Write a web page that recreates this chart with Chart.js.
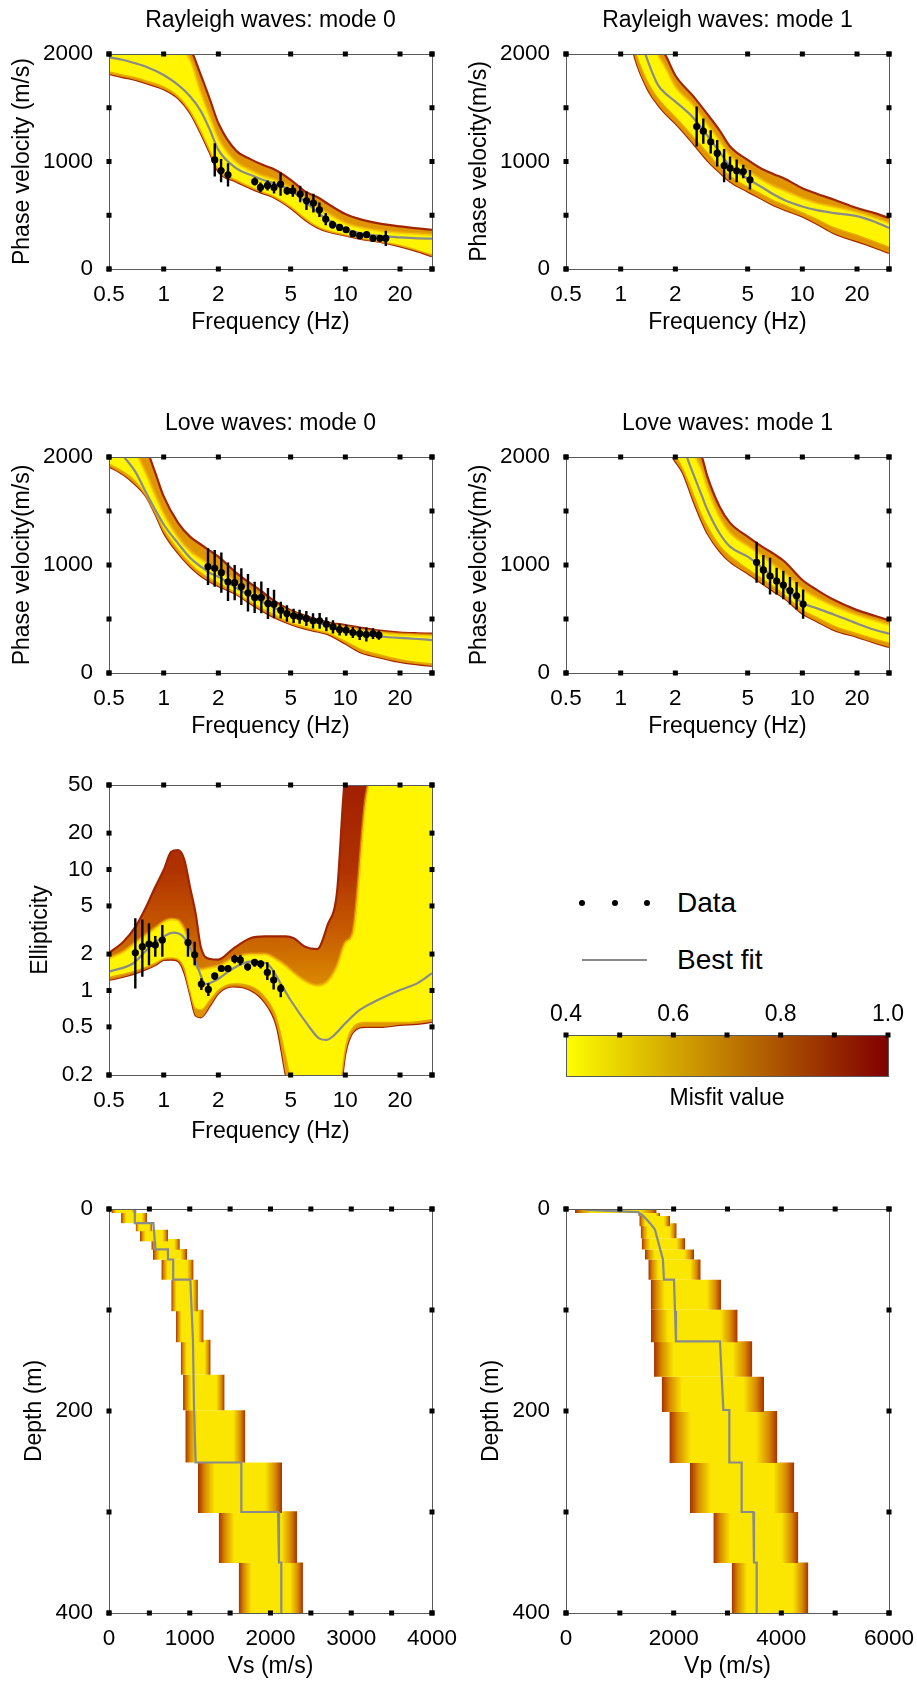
<!DOCTYPE html>
<html lang="en">
<head>
<meta charset="UTF-8">
<meta name="viewport" content="width=device-width, initial-scale=1.0">
<title>Inversion results</title>
<script src="https://cdn.jsdelivr.net/npm/chart.js@4.4.1/dist/chart.umd.min.js"></script>
<style>
  body { margin: 0; background: #fff; }
  #page { position: relative; width: 917px; height: 1683px; overflow: hidden; background: #fff;
          font-family: "Liberation Sans", Arial, sans-serif; color: #000; }
  #page canvas { position: absolute; }
  .dot { position: absolute; width: 6px; height: 6px; border-radius: 50%; background: #000; }
  .legtext { position: absolute; font-size: 28px; line-height: 28px; white-space: nowrap; }
</style>
</head>
<body>
<div id="page">
  <div class="dot" style="left:579px;top:900px"></div>
  <div class="dot" style="left:612px;top:900px"></div>
  <div class="dot" style="left:644px;top:900px"></div>
  <div class="legtext" style="left:677px;top:889px">Data</div>
  <div style="position:absolute;left:582px;top:959px;width:65px;height:2px;background:#8a8a8a"></div>
  <div class="legtext" style="left:677px;top:946px">Best fit</div>
</div>
<script>
// ticks
const freqTicks = [0.5, 1, 2, 5, 10, 20, 30];
const freqLabels = ['0.5', '1', '2', '5', '10', '20', ''];
const velTicks = [0, 500, 1000, 1500, 2000];
const velLabels = ['0', '', '1000', '', '2000'];
const ellTicks = [0.2, 0.5, 1, 2, 5, 10, 20, 50];
const ellLabels = ['0.2', '0.5', '1', '2', '5', '10', '20', '50'];
const depthTicks = [0, 100, 200, 300, 400];
const depthLabels = ['0', '', '200', '', '400'];
const vsTicks = [0, 500, 1000, 1500, 2000, 2500, 3000, 3500, 4000];
const vsLabels = ['0', '', '1000', '', '2000', '', '3000', '', '4000'];
const vpTicks = [0, 1000, 2000, 3000, 4000, 5000, 6000];
const vpLabels = ['0', '', '2000', '', '4000', '', '6000'];
const misfitTicks = [0.4, 0.5, 0.6, 0.7, 0.8, 0.9, 1.0];
const misfitLabels = ['0.4', '', '0.6', '', '0.8', '', '1.0'];

// Rayleigh mode 0
const r0Freq = [0.5,0.6,0.7,0.8,1,1.2,1.4,1.6,1.8,2,2.5,3,3.5,4,5,6,7,8,10,12,15,20,25,30];
const r0Upper = [2400,2350,2300,2250,2200,2150,2050,1805,1573,1356,1102,1022,969,932,830,721,669,607,511,464,427,396,378,365];
const r0InUpper = [2300,2250,2200,2150,2100,2050,1950,1650,1420,1220,1000,920,870,840,760,660,580,520,430,390,360,340,330,320];
const r0InLower = [1840,1810,1785,1755,1700,1615,1480,1295,1110,935,835,770,722,685,585,478,402,362,322,292,266,225,180,140];
const r0Lower = [1814,1783,1759,1728,1672,1588,1449,1263,1077,907,814,752,706,669,567,458,387,350,313,282,257,211,164,118];
const r0Best = [1969,1944,1913,1882,1805,1712,1604,1470,1290,1108,938,876,830,799,731,628,530,458,372,334,310,294,285,282];
const r0DataF = [1.91,2.07,2.26,3.17,3.41,3.73,4.05,4.40,4.78,5.14,5.64,6.11,6.67,7.2,7.8,8.5,9.3,10.1,11.0,12.0,13.1,14.2,15.5,16.7];
const r0DataV = [1015,916,876,814,759,777,759,789,728,728,697,635,613,551,464,412,387,365,328,310,319,285,285,285];
const r0DataErr = [155,108,108,37,46,46,56,108,37,56,77,87,87,68,56,37,25,25,19,15,15,12,12,70];

// Rayleigh mode 1
const r1Freq = [1.1,1.2,1.4,1.6,1.8,2,2.5,3,3.5,4,5,6,7,8,10,12,15,20,25,30];
const r1Upper = [2700,2550,2300,2120,1960,1800,1610,1440,1290,1140,1015,930,880,840,752,700,644,567,520,474];
const r1InUpper = [2600,2450,2200,2000,1850,1700,1530,1350,1200,1060,920,830,770,730,660,615,580,530,480,430];
const r1InLower = [2300,2050,1760,1600,1500,1420,1240,1090,960,870,770,700,640,600,530,470,390,320,260,210];
const r1Lower = [2250,1960,1680,1530,1430,1356,1170,1010,900,814,721,650,590,550,489,420,330,257,200,149];
const r1Best = [2450,2300,1950,1715,1620,1557,1410,1240,1090,955,840,760,690,640,582,548,520,492,440,381];
const r1DataF = [2.62,2.85,3.13,3.40,3.71,4.0,4.35,4.73,5.15];
const r1DataV = [1325,1282,1183,1077,962,938,913,907,830];
const r1DataErr = [186,118,108,124,155,108,105,62,90];

// Love mode 0
const l0Freq = [0.5,0.6,0.7,0.8,0.9,1,1.2,1.4,1.6,1.8,2,2.5,3,3.5,4,5,6,7,8,10,12,15,20,25,30];
const l0Upper = [2400,2300,2200,2080,1850,1635,1390,1260,1190,1130,1077,930,830,750,675,582,530,495,470,443,420,396,375,368,365];
const l0InUpper = [2350,2200,2050,1850,1650,1480,1260,1130,1060,1000,960,850,770,705,650,565,515,480,455,425,400,380,360,355,350];
const l0InLower = [1940,1870,1780,1650,1490,1340,1150,1020,935,880,840,745,665,600,550,470,430,400,375,300,230,180,130,105,90];
const l0Lower = [1913,1836,1743,1635,1470,1300,1110,985,900,845,805,730,644,575,520,452,410,385,360,272,195,149,102,80,65];
const l0Best = [2200,2010,1860,1670,1510,1375,1200,1065,985,925,892,790,715,660,610,535,495,465,440,395,365,340,325,315,305];
const l0DataF = [1.754,1.909,2.077,2.26,2.459,2.676,2.911,3.168,3.448,3.75,4.05,4.41,4.77,5.19,5.60,6.10,6.64,7.22,7.86,8.55,9.30,10.1,11.0,12.0,13.05,14.2,15.3];
const l0DataV = [985,969,929,845,836,799,743,700,700,644,638,582,551,529,520,505,483,483,452,427,402,396,375,365,356,365,350];
const l0DataErr = [170,170,186,178,163,170,173,144,147,144,132,77,77,67,65,70,70,73,65,62,54,51,50,59,65,50,43];

// Love mode 1
const l1Freq = [1.8,2,2.2,2.5,2.8,3,3.5,4,5,6,7,8,10,12,15,20,25,30];
const l1Upper = [2600,2450,2300,2150,2000,1820,1542,1390,1263,1170,1100,1030,861,770,675,582,530,489];
const l1InUpper = [2500,2350,2200,2050,1880,1720,1450,1300,1180,1090,1000,930,780,700,620,540,490,450];
const l1InLower = [2150,2030,1900,1680,1470,1370,1190,1090,970,880,800,730,590,520,440,370,320,285];
const l1Lower = [2080,1960,1851,1604,1400,1294,1130,1030,923,830,752,690,551,480,396,334,280,241];
const l1Best = [2450,2300,2100,1850,1640,1511,1294,1170,1077,975,875,790,650,600,540,458,400,365];
const l1DataF = [5.60,6.10,6.64,7.22,7.86,8.55,9.30,10.1];
const l1DataV = [1025,954,898,851,814,762,715,638];
const l1DataErr = [190,139,170,124,132,127,127,136];

// Ellipticity
const ellFreq = [0.5,0.6,0.7,0.8,0.9,1,1.1,1.2,1.3,1.4,1.5,1.6,1.8,2,2.4,3,3.6,4.2,4.7,5.2,6,7,8,9,10,11,13,16,20,25,30];
const ellUpper = [2.05,2.53,3.37,4.9,7.2,9.9,14,14.5,12,7,4.3,2.3,1.82,1.8,2.2,2.7,2.8,2.8,2.8,2.7,2.3,2.2,3.5,6.5,60,80,80,80,80,80,80];
const ellInUpper = [1.85,2.1,2.5,2.9,3.3,3.7,3.9,3.8,3.2,2.4,1.6,1.5,1.55,1.6,1.85,2.0,2.0,1.8,1.6,1.4,1.2,1.1,1.2,1.6,2.5,3,40,80,80,80,80];
const ellInLower = [1.3,1.38,1.47,1.58,1.7,1.85,1.87,1.82,1.55,1.0,0.72,0.7,0.85,1.02,1.15,1.1,0.9,0.6,0.3,0.15,0.1,0.1,0.1,0.12,0.35,0.5,0.55,0.55,0.55,0.56,0.58];
const ellLower = [1.22,1.3,1.39,1.5,1.62,1.79,1.8,1.75,1.4,0.92,0.62,0.6,0.75,0.95,1.08,1.01,0.8,0.5,0.2,0.1,0.1,0.1,0.1,0.1,0.3,0.45,0.5,0.5,0.52,0.53,0.55];
const ellBestF = [0.5,0.68,0.84,1,1.13,1.25,1.39,1.54,1.7,1.95,2.41,3,3.67,4.5,5,6.1,7.2,7.86,8.5,10,12,15,20,25,30];
const ellBest = [1.43,1.68,2.3,2.79,3.01,2.88,2.3,1.55,1.13,1.22,1.52,1.73,1.68,1.08,0.83,0.54,0.40,0.39,0.415,0.535,0.69,0.83,1.01,1.15,1.39];
const ellDataF = [0.698,0.763,0.830,0.899,0.983,1.361,1.481,1.612,1.761,1.909,2.077,2.26,2.459,2.641,2.899,3.168,3.42,3.72,4.03,4.41];
const ellDataV = [2.05,2.30,2.42,2.38,2.61,2.49,1.97,1.13,1.02,1.32,1.52,1.52,1.82,1.79,1.57,1.71,1.66,1.41,1.22,1.04];
const ellDataLo = [1.04,1.30,1.62,1.90,1.90,1.90,1.62,1.01,0.90,1.22,1.42,1.42,1.68,1.62,1.46,1.57,1.52,1.22,1.02,0.88];
const ellDataHi = [3.95,3.87,3.59,2.82,3.48,3.26,2.53,1.26,1.15,1.39,1.62,1.62,1.97,1.97,1.66,1.79,1.77,1.71,1.47,1.13];

// Vs profiles
const vsTop = [0,4,14,20.5,29.7,39.6,50.2,70,99.7,129.4,164,199.3,251,299.3,350];
const vsBottom = [4,14,22.1,32,40.3,50.2,70,101.3,132,164,199.3,251,301,350.5,400];
const vsMin = [30,150,330,384,524,545,648,771,830,888,917,945,1102,1358,1606];
const vsMax = [340,470,537,730,877,966,1048,1101,1172,1259,1432,1688,2143,2328,2402];
const vsBestVel = [320,320,550,575,730,730,795,795,1007,1040,1053,1073,1639,1639,2093,2105,2134,2134];
const vsBestDepth = [0,14,14,40,40,50,50,70,70,131,199,251,251,300,300,350,350,400];

// Vp profiles
const vpTop = [0,4,7,14,29,40,50,70,99.7,131,166,200,251,300,350];
const vpBottom = [4,7,17,29,40,50,70,99.7,132,166,201,251.5,301,350.5,400];
const vpMin = [167,1344,1362,1387,1406,1467,1529,1573,1579,1635,1777,1920,2303,2737,3077];
const vpMax = [1684,1746,1932,2056,2211,2378,2502,2879,3189,3461,3678,3926,4241,4316,4502];
const vpBestVel = [350,1340,1440,1560,1650,1700,1750,1800,1820,2006,2025,2043,2861,2892,2923,3034,3034,3263,3263,3480,3492,3542,3542];
const vpBestDepth = [1,3,7,14,20,30,40,50,70,70,101,131,131,166,199,199,251,251,300,300,350,350,400];

// styles
const YELLOW = '#fff500', ORANGE = '#df9400', RED = '#a02400', GREY = '#8a8a8a';
const RIM = 'rgba(240,180,0,0.6)';
const LAYER_STOPS = [[0, '#a83000'], [0.08, '#d88a00'], [0.2, '#fae600'], [0.8, '#fae600'], [0.92, '#d88a00'], [1, '#a83000']];
const MISFIT_STOPS = [[0, '#ffff00'], [0.17, '#e8d200'], [0.33, '#d4a800'], [0.5, '#c07c00'], [0.67, '#aa5000'], [0.83, '#962800'], [1, '#800000']];
// vertical colouring of the ellipticity envelope (top of axis -> bottom of axis)
const ELL_STOPS = [[0, '#a02000'], [0.29, '#b03200'], [0.5, '#c65a00'], [0.7, '#db8c00'], [1, '#e2a200']];

Chart.defaults.font.family = '"Liberation Sans", Arial, sans-serif';
Chart.defaults.color = '#000';

const page = document.getElementById('page');
function addCanvas(left, top, w, h) {
  const c = document.createElement('canvas');
  c.width = w; c.height = h;
  c.style.cssText = 'left:' + left + 'px;top:' + top + 'px;width:' + w + 'px;height:' + h + 'px';
  page.appendChild(c);
  return c;
}

// frame with black square tick marks on all four sides
const framePlugin = {
  id: 'frame',
  afterDatasetsDraw(chart, args, opts) {
    const {ctx, chartArea: a, scales} = chart;
    ctx.save();
    ctx.strokeStyle = '#5a5a5a';
    ctx.lineWidth = 1;
    ctx.strokeRect(Math.round(a.left) + 0.5, Math.round(a.top) + 0.5, Math.round(a.right - a.left), Math.round(a.bottom - a.top));
    ctx.fillStyle = '#000';
    const s = 5, h = s / 2;
    scales.x.ticks.forEach(t => {
      const px = scales.x.getPixelForValue(t.value);
      ctx.fillRect(px - h, a.top - h, s, s);
      if (!opts.topOnly) ctx.fillRect(px - h, a.bottom - h, s, s);
    });
    if (!opts.topOnly) {
      scales.y.ticks.forEach(t => {
        const py = scales.y.getPixelForValue(t.value);
        ctx.fillRect(a.left - h, py - h, s, s);
        ctx.fillRect(a.right - h, py - h, s, s);
      });
    }
    ctx.restore();
  }
};

function freeAxis(s) { s.paddingLeft = s.paddingRight = s.paddingTop = s.paddingBottom = 0; }

function bottomAxis(type, min, max, ticks, labels, title, height, titlePad) {
  return {
    type, position: 'bottom', min, max,
    grid: {display: false, drawTicks: false}, border: {display: false},
    ticks: {autoSkip: false, maxRotation: 0, minRotation: 0, padding: 12, font: {size: 22.5}, color: '#000',
      callback: v => labels[ticks.indexOf(v)] ?? ''},
    afterBuildTicks: s => { s.ticks = ticks.map(v => ({value: v})); },
    afterFit: s => { s.height = height; freeAxis(s); },
    title: {display: true, text: title, font: {size: 23}, color: '#000', padding: {top: 0, bottom: titlePad}}
  };
}

function leftAxis(type, min, max, ticks, labels, title, width, titlePad, reverse) {
  return {
    type, position: 'left', min, max, reverse: !!reverse,
    grid: {display: false, drawTicks: false}, border: {display: false},
    ticks: {autoSkip: false, padding: 16, font: {size: 22.5}, color: '#000',
      callback: v => labels[ticks.indexOf(v)] ?? ''},
    afterBuildTicks: s => { s.ticks = ticks.map(v => ({value: v})); },
    afterFit: s => { s.width = width; freeAxis(s); },
    title: {display: true, text: title, font: {size: 23}, color: '#000', padding: {top: titlePad, bottom: 0}}
  };
}

function topAxis(title, height) {
  return {
    type: 'linear', position: 'top', min: 0, max: 1,
    grid: {display: false, drawTicks: false}, border: {display: false}, ticks: {display: false},
    afterFit: s => { s.height = height; freeAxis(s); },
    title: {display: !!title, text: title || '', font: {size: 23}, color: '#000', padding: {top: 6.5, bottom: 0}}
  };
}

function plotPanel(o) {
  const canvas = addCanvas(o.left, o.top, o.width, o.height);
  return new Chart(canvas, {
    type: 'line',
    data: {datasets: o.datasets.map(d => Object.assign({xAxisID: 'x', yAxisID: 'y'}, d))},
    options: {
      responsive: false, animation: false, devicePixelRatio: 1, events: [],
      layout: {padding: {left: 0, top: 0, right: o.width - 432, bottom: 0}, autoPadding: false},
      plugins: {legend: {display: false}, tooltip: {enabled: false}},
      scales: {
        x: bottomAxis(o.xType, o.xMin, o.xMax, o.xTicks, o.xLabels, o.xTitle, o.height - o.areaBottom, o.xTitlePad),
        y: leftAxis(o.yType, o.yMin, o.yMax, o.yTicks, o.yLabels, o.yTitle, 109, o.yTitlePad, o.reverse),
        xTop: topAxis(o.title, o.areaTop)
      }
    },
    plugins: [framePlugin]
  });
}

const pts = (xs, ys) => xs.map((x, i) => ({x, y: ys[i]}));
function errorSegments(xs, lo, hi) {
  const out = [];
  xs.forEach((x, i) => out.push({x, y: lo[i]}, {x, y: hi[i]}, {x, y: null}));
  return out;
}
function markerSets(xs, ys, lo, hi) {
  return [
    {data: pts(xs, ys), showLine: false, pointRadius: 3.6, pointBackgroundColor: '#000', pointBorderWidth: 0, borderColor: '#000'},
    {data: errorSegments(xs, lo, hi), borderColor: '#000', borderWidth: 2.4, pointRadius: 0, spanGaps: false}
  ];
}
function bestSet(xs, ys, smooth) {
  return {data: pts(xs, ys), borderColor: GREY, borderWidth: 2.2, pointRadius: 0,
    cubicInterpolationMode: smooth ? 'monotone' : 'default', tension: 0, fill: false};
}
function bandSets(xs, up, inUp, inLo, lo, outerFill) {
  const base = {pointRadius: 0, cubicInterpolationMode: 'monotone'};
  return [
    Object.assign({}, base, {data: pts(xs, inUp), fill: '+1', backgroundColor: YELLOW, borderColor: RIM, borderWidth: 3}),
    Object.assign({}, base, {data: pts(xs, inLo), fill: false, borderColor: RIM, borderWidth: 3}),
    Object.assign({}, base, {data: pts(xs, up), fill: '+1', backgroundColor: outerFill || ORANGE, borderColor: RED, borderWidth: 2.2}),
    Object.assign({}, base, {data: pts(xs, lo), fill: false, borderColor: RED, borderWidth: 2.2})
  ];
}
function verticalGradient(chart, stops) {
  const {ctx, chartArea} = chart;
  if (!chartArea) return ORANGE;
  const g = ctx.createLinearGradient(0, chartArea.top, 0, chartArea.bottom);
  stops.forEach(([p, c]) => g.addColorStop(p, c));
  return g;
}
function layerGradient(chart, a, b) {
  const {ctx, chartArea, scales} = chart;
  if (!chartArea) return YELLOW;
  const g = ctx.createLinearGradient(scales.x.getPixelForValue(a), 0, scales.x.getPixelForValue(b), 0);
  LAYER_STOPS.forEach(([p, c]) => g.addColorStop(p, c));
  return g;
}
function layerSets(top, bottom, vmin, vmax) {
  return top.map((t, i) => ({
    data: [{x: vmin[i], y: t}, {x: vmax[i], y: t}],
    fill: {value: bottom[i]},
    backgroundColor: c => layerGradient(c.chart, vmin[i], vmax[i]),
    borderColor: 'transparent', borderWidth: 0, pointRadius: 0
  }));
}

function dispersionPanel(left, top, width, title, yTitle, xTitlePad, f, up, inUp, inLo, lo, best, df, dv, de) {
  plotPanel({
    left, top, width, height: top === 0 ? 345 : 346, areaTop: 54, areaBottom: 269 + (top === 0 ? 0 : 1),
    title, xType: 'logarithmic', xMin: 0.5, xMax: 30, xTicks: freqTicks, xLabels: freqLabels,
    xTitle: 'Frequency (Hz)', xTitlePad,
    yType: 'linear', yMin: 0, yMax: 2000, yTicks: velTicks, yLabels: velLabels, yTitle, yTitlePad: 8.4,
    datasets: [
      ...markerSets(df, dv, dv.map((v, i) => v - de[i]), dv.map((v, i) => v + de[i])),
      bestSet(f, best, true),
      ...bandSets(f, up, inUp, inLo, lo)
    ]
  });
}

dispersionPanel(0, 0, 457, 'Rayleigh waves: mode 0', 'Phase velocity (m/s)', 8.2,
  r0Freq, r0Upper, r0InUpper, r0InLower, r0Lower, r0Best, r0DataF, r0DataV, r0DataErr);
dispersionPanel(457, 0, 460, 'Rayleigh waves: mode 1', 'Phase velocity(m/s)', 8.2,
  r1Freq, r1Upper, r1InUpper, r1InLower, r1Lower, r1Best, r1DataF, r1DataV, r1DataErr);
dispersionPanel(0, 403, 457, 'Love waves: mode 0', 'Phase velocity(m/s)', 8.3,
  l0Freq, l0Upper, l0InUpper, l0InLower, l0Lower, l0Best, l0DataF, l0DataV, l0DataErr);
dispersionPanel(457, 403, 460, 'Love waves: mode 1', 'Phase velocity(m/s)', 8.3,
  l1Freq, l1Upper, l1InUpper, l1InLower, l1Lower, l1Best, l1DataF, l1DataV, l1DataErr);

// ellipticity
plotPanel({
  left: 0, top: 765, width: 457, height: 386, areaTop: 20, areaBottom: 310,
  title: '', xType: 'logarithmic', xMin: 0.5, xMax: 30, xTicks: freqTicks, xLabels: freqLabels,
  xTitle: 'Frequency (Hz)', xTitlePad: 5.3,
  yType: 'logarithmic', yMin: 0.2, yMax: 50, yTicks: ellTicks, yLabels: ellLabels, yTitle: 'Ellipticity', yTitlePad: 27,
  datasets: [
    ...markerSets(ellDataF, ellDataV, ellDataLo, ellDataHi),
    bestSet(ellBestF, ellBest, true),
    ...bandSets(ellFreq, ellUpper, ellInUpper, ellInLower, ellLower, c => verticalGradient(c.chart, ELL_STOPS))
  ]
});

// Vs and Vp profiles
plotPanel({
  left: 0, top: 1189, width: 457, height: 494, areaTop: 20, areaBottom: 424,
  title: '', xType: 'linear', xMin: 0, xMax: 4000, xTicks: vsTicks, xLabels: vsLabels,
  xTitle: 'Vs (m/s)', xTitlePad: 3,
  yType: 'linear', yMin: 0, yMax: 400, yTicks: depthTicks, yLabels: depthLabels, yTitle: 'Depth (m)', yTitlePad: 21, reverse: true,
  datasets: [bestSet(vsBestVel, vsBestDepth, false), ...layerSets(vsTop, vsBottom, vsMin, vsMax)]
});
plotPanel({
  left: 457, top: 1189, width: 460, height: 494, areaTop: 20, areaBottom: 424,
  title: '', xType: 'linear', xMin: 0, xMax: 6000, xTicks: vpTicks, xLabels: vpLabels,
  xTitle: 'Vp (m/s)', xTitlePad: 3,
  yType: 'linear', yMin: 0, yMax: 400, yTicks: depthTicks, yLabels: depthLabels, yTitle: 'Depth (m)', yTitlePad: 21, reverse: true,
  datasets: [bestSet(vpBestVel, vpBestDepth, false), ...layerSets(vpTop, vpBottom, vpMin, vpMax)]
});

// misfit colour bar
function misfitGradient(chart) {
  const {ctx, chartArea, scales} = chart;
  if (!chartArea) return '#c07c00';
  const g = ctx.createLinearGradient(scales.x.getPixelForValue(misfitTicks[0]), 0,
    scales.x.getPixelForValue(misfitTicks[misfitTicks.length - 1]), 0);
  MISFIT_STOPS.forEach(([p, c]) => g.addColorStop(p, c));
  return g;
}
new Chart(addCanvas(520, 985, 397, 130), {
  type: 'bar',
  data: {
    labels: ['misfit'],
    datasets: [{
      data: [[misfitTicks[0], misfitTicks[misfitTicks.length - 1]]], xAxisID: 'x', yAxisID: 'y',
      backgroundColor: c => misfitGradient(c.chart), borderWidth: 0, barPercentage: 1, categoryPercentage: 1
    }]
  },
  options: {
    indexAxis: 'y', responsive: false, animation: false, devicePixelRatio: 1, events: [],
    layout: {padding: {left: 46, right: 29, top: 0, bottom: 0}, autoPadding: false},
    plugins: {legend: {display: false}, tooltip: {enabled: false}, frame: {topOnly: true}},
    scales: {
      x: {
        type: 'linear', position: 'top', min: 0.4, max: 1.0,
        grid: {display: false, drawTicks: false}, border: {display: false},
        ticks: {autoSkip: false, maxRotation: 0, padding: 6.6, font: {size: 23}, color: '#000',
          callback: v => misfitLabels[misfitTicks.indexOf(v)] ?? ''},
        afterBuildTicks: s => { s.ticks = misfitTicks.map(v => ({value: v})); },
        afterFit: s => { s.height = 50; freeAxis(s); }
      },
      y: {type: 'category', display: false},
      xb: {
        type: 'linear', position: 'bottom', min: 0, max: 1,
        grid: {display: false, drawTicks: false}, border: {display: false}, ticks: {display: false},
        afterFit: s => { s.height = 39; freeAxis(s); },
        title: {display: true, text: 'Misfit value', font: {size: 23}, color: '#000', padding: {top: 0, bottom: 2.3}}
      }
    }
  },
  plugins: [framePlugin]
});
</script>
</body>
</html>
